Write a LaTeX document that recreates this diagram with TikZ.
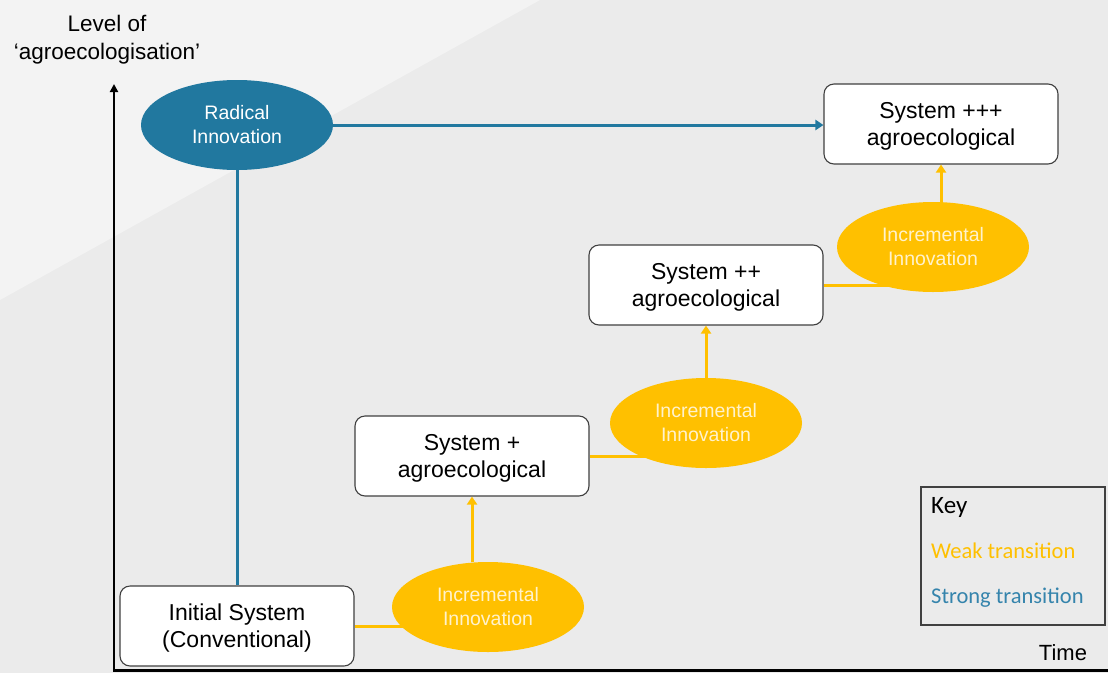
\documentclass[tikz,border=0pt]{standalone}
\usepackage{fontspec}
\setmainfont{Liberation Sans}
\newfontfamily\keyfont{Carlito}
\usetikzlibrary{shapes.geometric,arrows.meta}
\pgfdeclarelayer{bg}
\pgfdeclarelayer{lines}
\pgfsetlayers{bg,lines,main}
\definecolor{bglight}{HTML}{F3F3F3}
\definecolor{bgmain}{HTML}{EBEBEB}
\definecolor{strong}{HTML}{21789F}
\definecolor{strongtxt}{HTML}{3584AC}
\definecolor{weak}{HTML}{FFC000}
\definecolor{weaktxt}{HTML}{FFF2CC}
\definecolor{boxline}{HTML}{404040}
\tikzset{
  sysbox/.style={draw=boxline, line width=1.1pt, fill=white, rounded corners=10pt,
    minimum width=234pt, minimum height=80pt, align=center, inner sep=0pt, text depth=0pt,
    font=\fontsize{23}{27}\selectfont},
  incell/.style={ellipse, fill=weak, draw=none, minimum width=192pt, minimum height=90pt,
    inner sep=0pt, align=center, text=weaktxt, font=\fontsize{19.5}{24}\selectfont},
  radell/.style={ellipse, fill=strong, draw=none, minimum width=192pt, minimum height=90pt,
    inner sep=0pt, align=center, text=white, font=\fontsize{19.5}{24}\selectfont},
  weakline/.style={draw=weak, line width=3pt},
  strongline/.style={draw=strong, line width=3pt},
  tip/.style={-{Triangle[width=10pt,length=8pt]}},
  keytext/.style={anchor=west, inner sep=0pt, font=\keyfont\fontsize{22.5}{27}\selectfont},
  axislabel/.style={align=center, inner sep=0pt, font=\fontsize{22.5}{28}\selectfont}
}
\begin{document}
\begin{tikzpicture}[x=1pt,y=-1pt]
\useasboundingbox (0,0) rectangle (1108,673);
\begin{pgfonlayer}{bg}
  \fill[bgmain] (0,0) rectangle (1108,673);
  \fill[bglight] (0,0) -- (540,0) -- (0,300) -- cycle;
\end{pgfonlayer}

% nodes
\node[radell] (rad) at (237,125) {Radical\\Innovation};
\node[sysbox] (sys3) at (941,124) {System +++\\agroecological};
\node[incell] (inc3) at (933,247) {Incremental\\Innovation};
\node[sysbox] (sys2) at (706,285) {System ++\\agroecological};
\node[incell] (inc2) at (706,423) {Incremental\\Innovation};
\node[sysbox] (sys1) at (472,456) {System +\\agroecological};
\node[incell] (inc1) at (488,607) {Incremental\\Innovation};
\node[sysbox] (init) at (237,626) {Initial System\\(Conventional)};

% axis labels
\node[axislabel] (ylab) at (107,40) {Level of\\`agroecologisation'};
\node[inner sep=0pt, font=\fontsize{22}{26}\selectfont] (xlab) at (1063,653) {Time};

% key
\node[draw=boxline, line width=1.3pt, minimum width=184pt, minimum height=138pt, inner sep=0pt] (key) at (1013,556) {};
\node[keytext, font=\keyfont\fontsize{25}{30}\selectfont] (k1) at (931,507) {Key};
\node[keytext, text=weak] (k2) at (931,551) {Weak transition};
\node[keytext, text=strongtxt] (k3) at (931,598) {Strong transition};

% axes
\coordinate (origin) at (114,670);
\coordinate (ytop) at (114,84);
\coordinate (xend) at (1108,670);
\draw[line width=2.4pt, -{Triangle[width=8pt,length=8pt]}] (origin) -- (ytop);
\draw[line width=3pt] ([xshift=-1.2pt]origin) -- (xend);

% connectors
\begin{pgfonlayer}{lines}
  \draw[strongline] (rad.south) -- (init.north);
  \draw[weakline] (init.east) -- (init.east -| inc1.center);
  \draw[weakline] (sys1.east) -- (sys1.east -| inc2.center);
  \draw[weakline] (sys2.east) -- (sys2.east -| inc3.center);
\end{pgfonlayer}
\draw[strongline, tip] (rad.east) -- (sys3.west |- rad.east);
\draw[weakline, tip] (inc1.north -| sys1.south) -- (sys1.south);
\draw[weakline, tip] (inc2.north) -- (sys2.south);
\draw[weakline, tip] (inc3.north -| sys3.south) -- (sys3.south);
\end{tikzpicture}
\end{document}
